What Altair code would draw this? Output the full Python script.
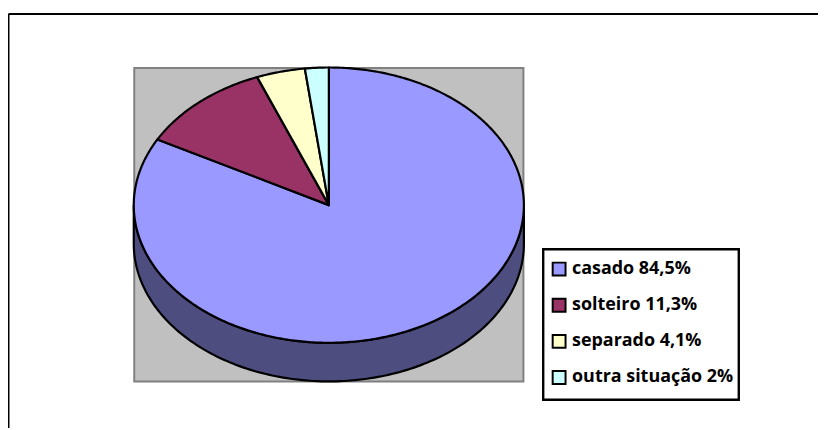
import math
import altair as alt

labels = ["casado 84,5%", "solteiro 11,3%", "separado 4,1%", "outra situação 2%"]
values = [84.5, 11.3, 4.1, 2.0]
colors = ["#9999FF", "#993366", "#FFFFCC", "#CCFFFF"]
wall_color = "#4D4D80"
plot_color = "#C0C0C0"
plot_border = "#808080"

CX, CY, RX, RY, DEPTH = 332, 205, 197, 139, 39
BOX = (135.5, 66.5, 528.5, 383)
LEGEND_BOX = (548.5, 249.5, 746, 401.5)


def pt(a, dy=0):
    """Point of the tilted pie's rim; a is the clockwise angle from 12 o'clock."""
    return [CX + RX * math.sin(a), CY - RY * math.cos(a) + dy]


def rect(x0, y0, x1, y1):
    return [[x0, y0], [x1, y0], [x1, y1], [x0, y1], [x0, y0]]


def feature(coords, kind="Polygon", **props):
    return {"type": "Feature", "properties": props,
            "geometry": {"type": kind, "coordinates": [coords] if kind == "Polygon" else coords}}


def collection(features):
    return alt.InlineData(values={"type": "FeatureCollection", "features": features},
                          format=alt.DataFormat(property="features", type="json"))


total = sum(values)
slices = []
start = 0.0
for lab, v in zip(labels, values):
    end = start + v / total * 2 * math.pi
    n = max(4, int((end - start) * 80))
    arc = [pt(start + (end - start) * i / n) for i in range(n + 1)]
    ring = [[CX, CY]] + arc + [[CX, CY]]
    slices.append(feature(ring, label=lab))
    start = end

half = [math.pi / 2 + math.pi * i / 160 for i in range(161)]
wall_ring = [pt(a) for a in half] + [pt(a, DEPTH) for a in reversed(half)]
wall_ring.append(wall_ring[0])

proj = dict(type="identity", scale=1, translate=[-8, -8])

frame = alt.Chart(collection([
    feature([[8.5, 12], [900, 12]], kind="LineString"),
    feature([[8.5, 12], [8.5, 600]], kind="LineString"),
])).mark_geoshape(filled=False, stroke="black", strokeWidth=2).project(**proj)

plot_bg = alt.Chart(collection([feature(rect(*BOX))])).mark_geoshape(
    fill=plot_color, stroke=plot_border, strokeWidth=2).project(**proj)

wall = alt.Chart(collection([feature(wall_ring)])).mark_geoshape(
    fill=wall_color, stroke="black", strokeWidth=2.2).project(**proj)

legend_bg = alt.Chart(collection([feature(rect(*LEGEND_BOX))])).mark_geoshape(
    fill="white", stroke="black", strokeWidth=2.4).project(**proj)

top = alt.Chart(collection(slices)).mark_geoshape(
    stroke="black", strokeWidth=2.2, strokeJoin="round").encode(
    color=alt.Color(
        "properties.label:N",
        scale=alt.Scale(domain=labels, range=colors),
        sort=labels,
        legend=alt.Legend(
            title=None, orient="none", legendX=547.5, legendY=252.5,
            symbolType="square", symbolSize=169, symbolStrokeColor="black",
            symbolStrokeWidth=2, symbolOpacity=1,
            labelFont="Open Sans", labelFontWeight="bold", labelFontSize=18.1,
            labelColor="black", labelLimit=300, labelOffset=4,
            padding=0, rowPadding=14.5,
        ),
    )
).project(**proj)

chart = alt.layer(frame, plot_bg, wall, legend_bg, top).properties(
    width=818, height=422, padding=0,
    autosize=alt.AutoSizeParams(type="none"),
    background="white",
).configure_view(stroke=None)

chart.save("out.html", embed_options={"renderer": "svg", "actions": False})
